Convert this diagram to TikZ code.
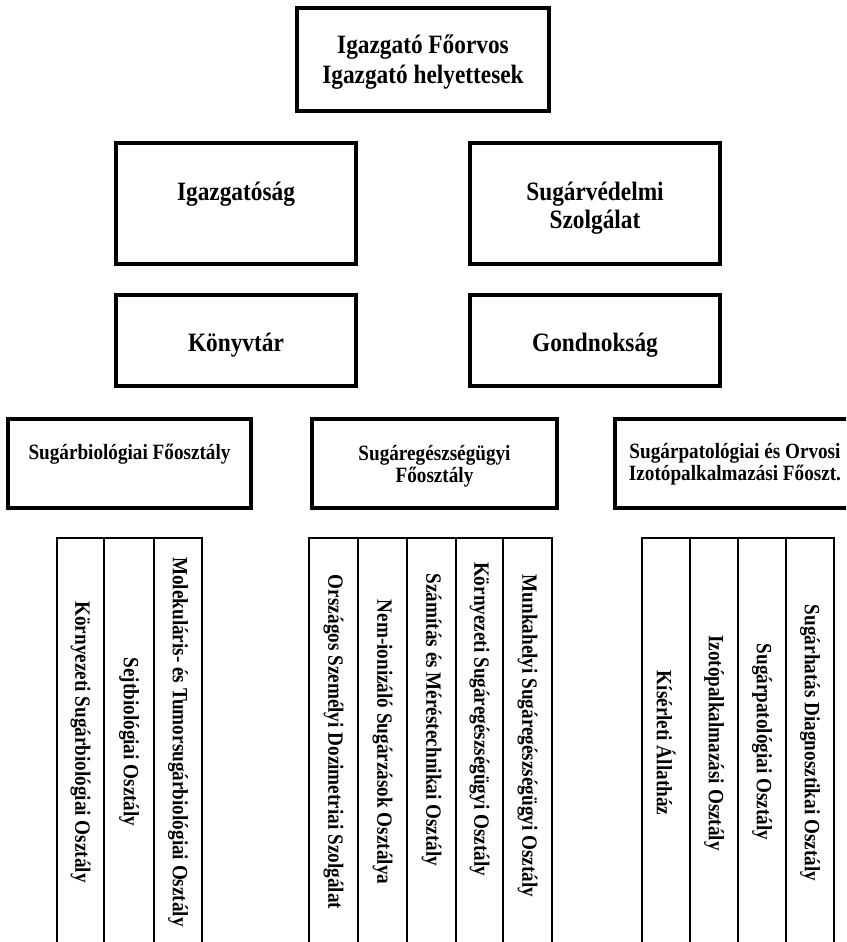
\documentclass[tikz,border=0pt]{standalone}
\usepackage{fontspec}
\setmainfont{Liberation Serif}[FakeStretch=0.88]
\begin{document}
\begin{tikzpicture}[x=1pt,y=-1pt,
  bigbox/.style={draw=black,line width=4pt,rectangle,inner sep=0pt,outer sep=0pt},
  colbox/.style={draw=black,line width=1.4pt,rectangle,inner sep=0pt,outer sep=0pt,minimum height=412pt},
  bigtxt/.style={anchor=base,inner sep=0pt,font=\fontsize{26.5}{29}\selectfont\bfseries},
  smalltxt/.style={anchor=base,inner sep=0pt,font=\fontsize{21.8}{24}\selectfont\bfseries},
  coltxt/.style={anchor=center,inner sep=0pt,rotate=-90,font=\fontsize{21.8}{24}\selectfont\bfseries}]
\useasboundingbox (0,0) rectangle (846,942);
\clip (0,0) rectangle (846,942);
\fill[white] (0,0) rectangle (846,942);

% level 1
\node[bigbox,line width=3.5pt,minimum width=252pt,minimum height=103pt] (top) at (423,59.5) {};
\node[bigtxt] (topa) at (423,54) {Igazgató Főorvos};
\node[bigtxt] (topb) at (423,83) {Igazgató helyettesek};

% level 2
\node[bigbox,minimum width=240pt,minimum height=121pt] (igaz) at (236,203.5) {};
\node[bigtxt] (igazt) at (236,200) {Igazgatóság};
\node[bigbox,minimum width=250pt,minimum height=121pt] (sv) at (595,203.5) {};
\node[bigtxt] (sva) at (595,200) {Sugárvédelmi};
\node[bigtxt] (svb) at (595,228) {Szolgálat};

% level 3
\node[bigbox,minimum width=240pt,minimum height=91pt] (konyv) at (236,340.5) {};
\node[bigtxt] (konyvt) at (236,351) {Könyvtár};
\node[bigbox,minimum width=250pt,minimum height=91pt] (gond) at (595,340.5) {};
\node[bigtxt] (gondt) at (595,351) {Gondnokság};

% level 4
\node[bigbox,minimum width=243pt,minimum height=89pt] (sbio) at (129.5,463.5) {};
\node[smalltxt] (sbiot) at (129.5,459) {Sugárbiológiai Főosztály};
\node[bigbox,minimum width=245pt,minimum height=89pt] (seg) at (434.5,463.5) {};
\node[smalltxt] (sega) at (434.5,460) {Sugáregészségügyi};
\node[smalltxt] (segb) at (434.5,482) {Főosztály};
\node[bigbox,minimum width=240pt,minimum height=89pt] (spat) at (735,463.5) {};
\node[smalltxt] (spata) at (735,458) {Sugárpatológiai és Orvosi};
\node[smalltxt] (spatb) at (735,480) {Izotópalkalmazási Főoszt.};

% columns group 1
\node[colbox,minimum width=47pt] (c11) at (80.5,744) {};
\node[colbox,minimum width=50pt] (c12) at (129,744) {};
\node[colbox,minimum width=48pt] (c13) at (178,744) {};
\node[coltxt] (t11) at (80.5,742) {Környezeti Sugárbiológiai Osztály};
\node[coltxt] (t12) at (129,742) {Sejtbiológiai Osztály};
\node[coltxt] (t13) at (178,742) {Molekuláris- és Tumorsugárbiológiai Osztály};

% columns group 2
\node[colbox,minimum width=49pt] (c21) at (333.5,744) {};
\node[colbox,minimum width=49pt] (c22) at (382.5,744) {};
\node[colbox,minimum width=49pt] (c23) at (431.5,744) {};
\node[colbox,minimum width=47pt] (c24) at (479.5,744) {};
\node[colbox,minimum width=49pt] (c25) at (527.5,744) {};
\node[coltxt] (t21) at (333.5,742) {Országos Személyi Dozimetriai Szolgálat};
\node[coltxt] (t22) at (382.5,742) {Nem-ionizáló Sugárzások Osztálya};
\node[coltxt] (t23) at (431.5,720) {Számítás és Méréstechnikai Osztály};
\node[coltxt] (t24) at (479.5,719) {Környezeti Sugáregészségügyi Osztály};
\node[coltxt] (t25) at (527.5,736) {Munkahelyi Sugáregészségügyi Osztály};

% columns group 3
\node[colbox,minimum width=48pt] (c31) at (666,744) {};
\node[colbox,minimum width=48pt] (c32) at (714,744) {};
\node[colbox,minimum width=48pt] (c33) at (762,744) {};
\node[colbox,minimum width=48pt] (c34) at (810,744) {};
\node[coltxt] (t31) at (666,743) {Kísérleti Állatház};
\node[coltxt] (t32) at (714,743) {Izotópalkalmazási Osztály};
\node[coltxt] (t33) at (762,742) {Sugárpatológiai Osztály};
\node[coltxt] (t34) at (810,743) {Sugárhatás Diagnosztikai Osztály};
\end{tikzpicture}
\end{document}
